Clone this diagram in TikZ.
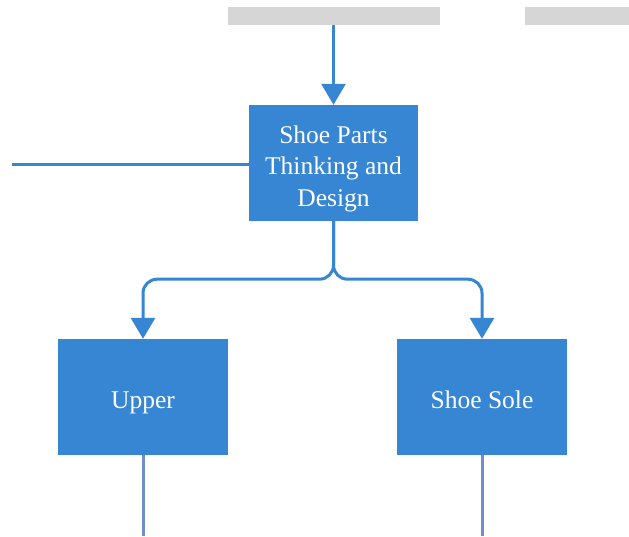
\documentclass[tikz,border=0pt]{standalone}
\usepackage{fontspec}
\setmainfont{Liberation Serif}
\usetikzlibrary{arrows.meta}
\definecolor{boxblue}{RGB}{55,134,211}
\definecolor{stemblue}{RGB}{112,142,206}
\definecolor{bargray}{RGB}{214,214,214}
\begin{document}
\begin{tikzpicture}[x=1pt,y=-1pt,
  stagebox/.style={rectangle, fill=boxblue, draw=none, text=white,
    minimum width=170pt, minimum height=116pt, align=center, inner sep=0pt,
    font=\fontsize{25.5}{31.5}\selectfont},
  onelinebox/.style={stagebox, text height=22pt, text depth=0pt},
  bar/.style={rectangle, fill=bargray, draw=none, inner sep=0pt, minimum height=18pt},
  link/.style={draw=boxblue, line width=3pt},
  flow/.style={link, -{Triangle[width=24pt,length=21pt]}, rounded corners=14pt},
  stem/.style={draw=stemblue, line width=3pt}]
\useasboundingbox (0,0) rectangle (629,536);

% header bars
\node[bar, minimum width=212pt] (barA) at (334,16) {};
\node[bar, minimum width=110pt] (barB) at (580,16) {};

% boxes
\node[stagebox, minimum width=169pt] (main) at (333.5,163)
  {\rule{0pt}{28.5pt}Shoe Parts\\Thinking and\\Design};
\node[onelinebox] (upper) at (143,397) {Upper};
\node[onelinebox] (sole) at (482,397) {Shoe Sole};

% free ends
\coordinate (lin) at (12,164);
\coordinate (upperEnd) at (143,536);
\coordinate (soleEnd) at (482,536);

% connectors
\draw[flow] (barA.south -| main.north) -- (main.north);
\draw[link] (lin) -- (lin -| main.west);
\draw[flow] (main.south) -- ++(0,58) -| (upper.north);
\draw[flow] (main.south) -- ++(0,58) -| (sole.north);
\draw[stem] (upper.south) -- (upperEnd);
\draw[stem] (sole.south) -- (soleEnd);
\end{tikzpicture}
\end{document}
